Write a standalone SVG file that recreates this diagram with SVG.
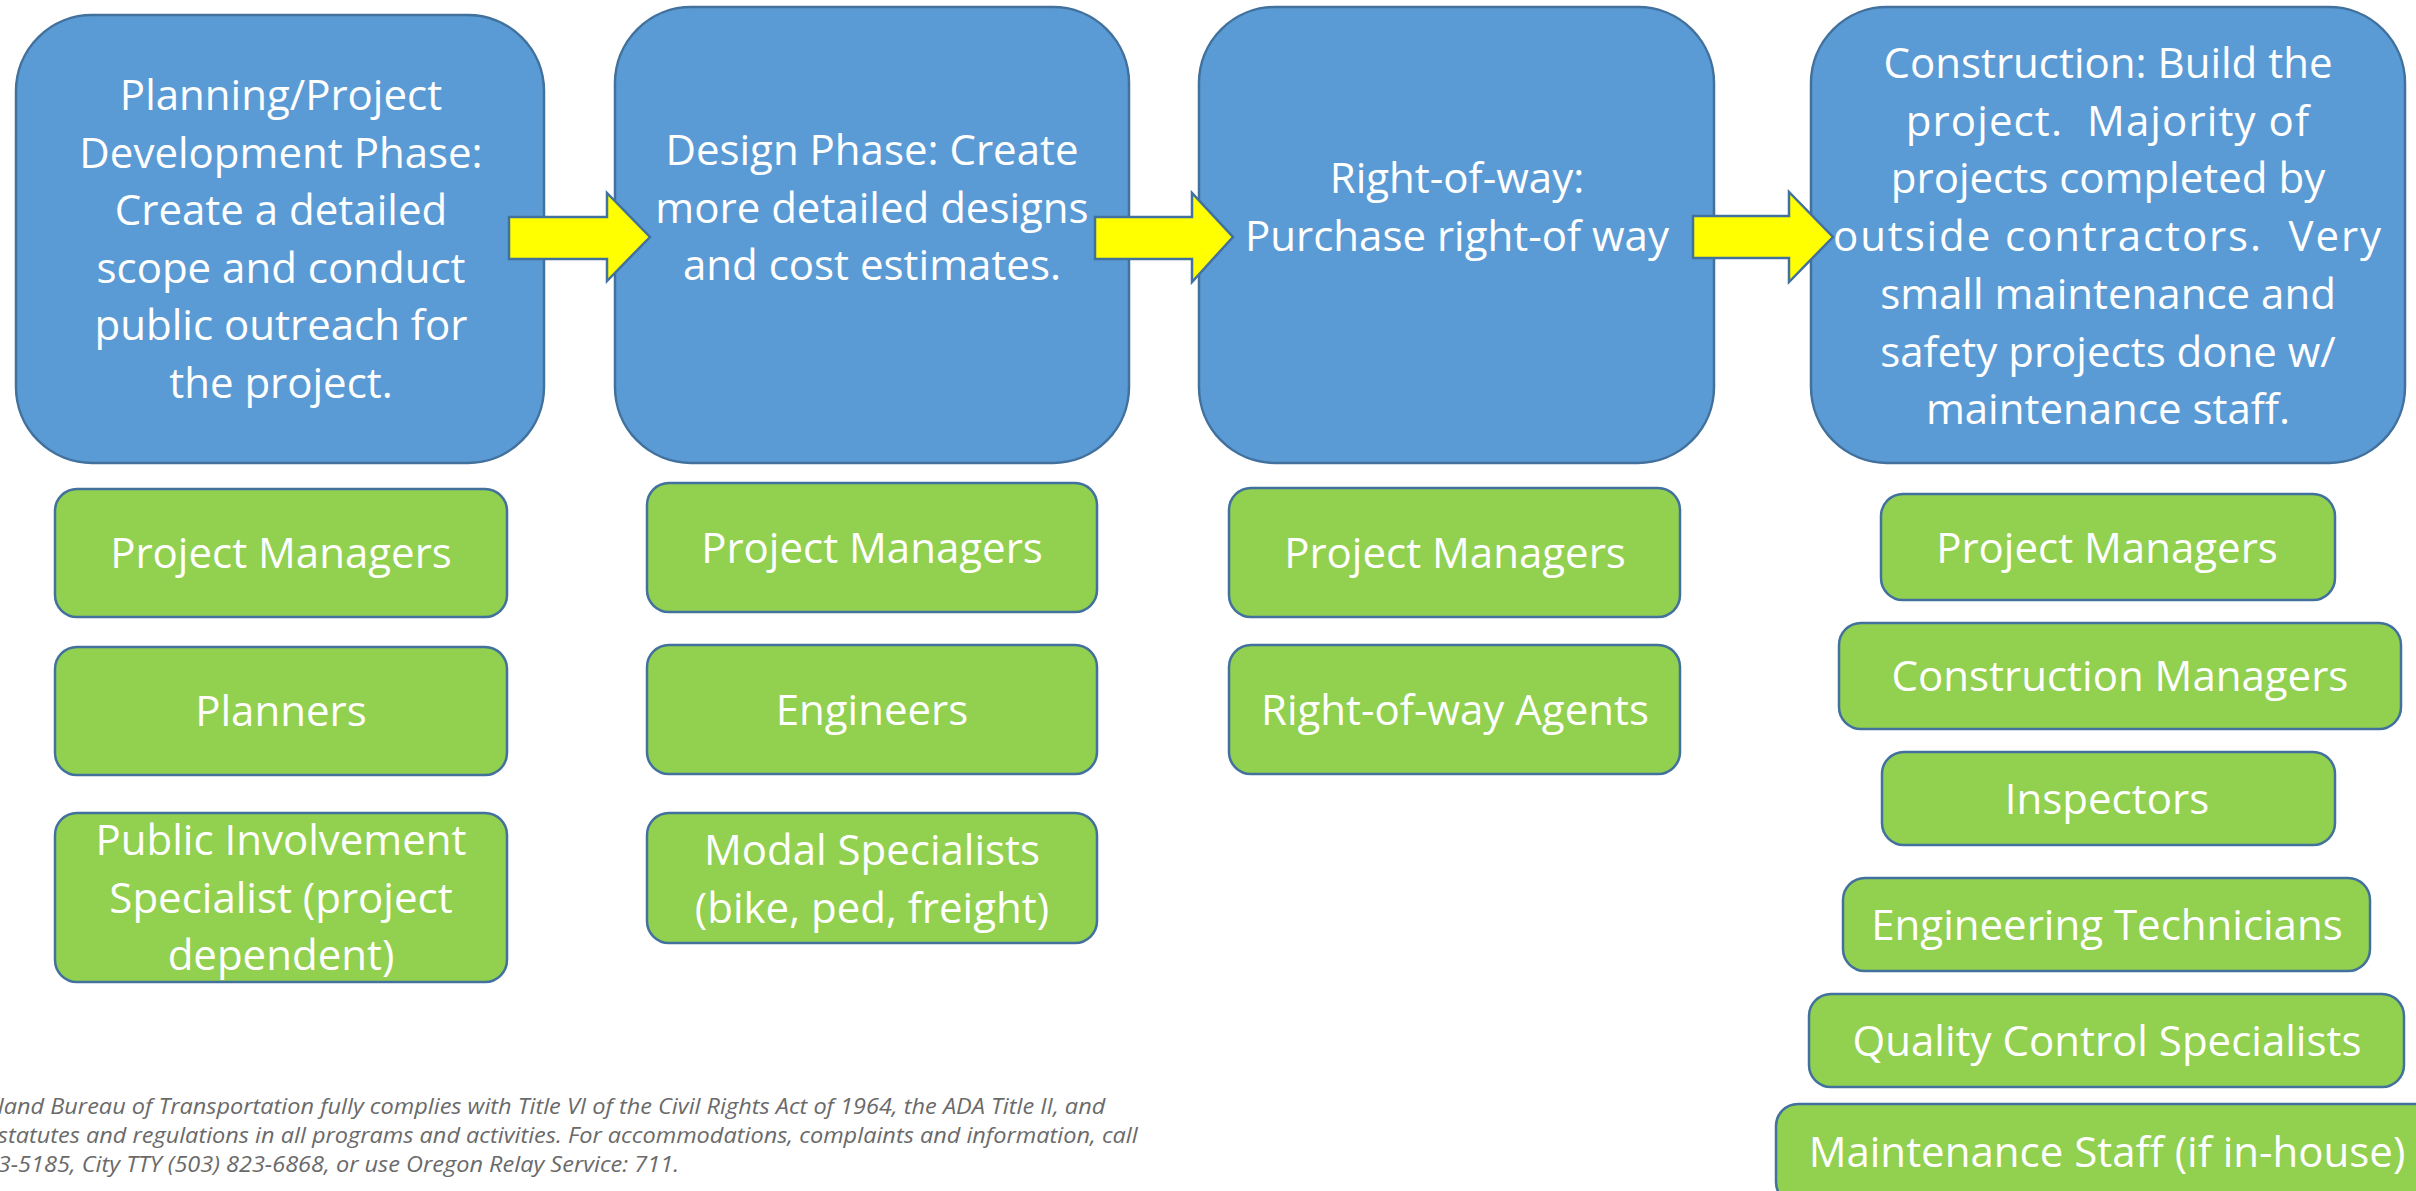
<svg xmlns="http://www.w3.org/2000/svg" width="2416" height="1191" viewBox="0 0 2416 1191">
<style>
.phase{fill:#5B9BD5;stroke:#41719C;stroke-width:2.5}
.role{fill:#92D050;stroke:#41719C;stroke-width:2.5}
.arrow{fill:#FFFF00;stroke:#41719C;stroke-width:2.5;stroke-linejoin:miter}
.t{font-family:"Open Sans","Liberation Sans",sans-serif;font-size:42px;fill:#FFFFFF;text-anchor:middle;white-space:pre}
.foot{font-family:"Open Sans","Liberation Sans",sans-serif;font-style:italic;font-size:21px;fill:#6A6A6A}
</style>
<rect width="2416" height="1191" fill="#FFFFFF"/>
<g id="roles-planning">
<g id="p-pm"><rect class="role" x="55" y="489" width="452" height="128" rx="22"/><text class="t" x="281" y="568">Project Managers</text></g>
<g id="p-planners"><rect class="role" x="55" y="647" width="452" height="128" rx="22"/><text class="t" x="281" y="726">Planners</text></g>
<g id="p-pi"><rect class="role" x="55" y="813" width="452" height="169" rx="22"/><text class="t" x="281" y="855">Public Involvement</text><text class="t" x="281" y="913">Specialist (project</text><text class="t" x="281" y="970">dependent)</text></g>
</g>
<g id="roles-design">
<g id="d-pm"><rect class="role" x="647" y="483" width="450" height="129" rx="22"/><text class="t" x="872" y="563">Project Managers</text></g>
<g id="d-eng"><rect class="role" x="647" y="645" width="450" height="129" rx="22"/><text class="t" x="872" y="725">Engineers</text></g>
<g id="d-modal"><rect class="role" x="647" y="813" width="450" height="130" rx="22"/><text class="t" x="872" y="865">Modal Specialists</text><text class="t" x="872" y="923">(bike, ped, freight)</text></g>
</g>
<g id="roles-row">
<g id="r-pm"><rect class="role" x="1229" y="488" width="451" height="129" rx="22"/><text class="t" x="1455" y="568">Project Managers</text></g>
<g id="r-agents"><rect class="role" x="1229" y="645" width="451" height="129" rx="22"/><text class="t" x="1455" y="725">Right-of-way Agents</text></g>
</g>
<g id="roles-construction">
<g id="c-pm"><rect class="role" x="1881" y="494" width="454" height="106" rx="22"/><text class="t" x="2107" y="563">Project Managers</text></g>
<g id="c-cm"><rect class="role" x="1839" y="623" width="562" height="106" rx="22"/><text class="t" x="2120" y="691">Construction Managers</text></g>
<g id="c-insp"><rect class="role" x="1882" y="752" width="453" height="93" rx="22"/><text class="t" x="2107" y="814">Inspectors</text></g>
<g id="c-et"><rect class="role" x="1843" y="878" width="527" height="93" rx="22"/><text class="t" x="2107" y="940">Engineering Technicians</text></g>
<g id="c-qcs"><rect class="role" x="1809" y="994" width="595" height="93" rx="22"/><text class="t" x="2107" y="1056">Quality Control Specialists</text></g>
<g id="c-ms"><rect class="role" x="1776" y="1104" width="664" height="100" rx="22"/><text class="t" x="2107" y="1167">Maintenance Staff (if in-house)</text></g>
</g>
<g id="phase-planning"><rect class="phase" x="16" y="15" width="528" height="448" rx="76"/>
<text class="t" x="281" y="110">Planning/Project</text><text class="t" x="281" y="167.6">Development Phase:</text><text class="t" x="281" y="225.2">Create a detailed</text><text class="t" x="281" y="282.8">scope and conduct</text><text class="t" x="281" y="340.4">public outreach for</text><text class="t" x="281" y="398">the project.</text></g>
<g id="phase-design"><rect class="phase" x="615" y="7" width="514" height="456" rx="76"/>
<text class="t" x="872" y="165">Design Phase: Create</text><text class="t" x="872" y="222.6">more detailed designs</text><text class="t" x="872" y="280.2">and cost estimates.</text></g>
<g id="phase-row"><rect class="phase" x="1199" y="7" width="515" height="456" rx="76"/>
<text class="t" x="1457" y="193">Right-of-way:</text><text class="t" x="1457" y="251">Purchase right-of way</text></g>
<g id="phase-construction"><rect class="phase" x="1811" y="7" width="594" height="456" rx="76"/>
<text class="t" x="2108" y="78">Construction: Build the</text><text class="t" x="2108" y="135.7" letter-spacing="1.1">project.  Majority of</text><text class="t" x="2108" y="193.4">projects completed by</text><text class="t" x="2108" y="251.1" letter-spacing="1.9">outside contractors.  Very</text><text class="t" x="2108" y="308.8">small maintenance and</text><text class="t" x="2108" y="366.5">safety projects done w/</text><text class="t" x="2108" y="424.2">maintenance staff.</text></g>
<g id="connectors">
<path class="arrow" d="M509,217 H607 V193 L650,237 L607,281 V259 H509 Z"/>
<path class="arrow" d="M1095,217 H1192 V193 L1233,237 L1192,282 V259 H1095 Z"/>
<path class="arrow" d="M1693,216 H1789 V192 L1833,237 L1789,282 V258 H1693 Z"/>
</g>
<g id="footer" transform="scale(1.12,1)">
<text class="foot" x="-2" y="1114">land Bureau of Transportation fully complies with Title VI of the Civil Rights Act of 1964, the ADA Title II, and</text>
<text class="foot" x="-2" y="1143">statutes and regulations in all programs and activities. For accommodations, complaints and information, call</text>
<text class="foot" x="-2" y="1172">3-5185, City TTY (503) 823-6868, or use Oregon Relay Service: 711.</text>
</g>
</svg>
